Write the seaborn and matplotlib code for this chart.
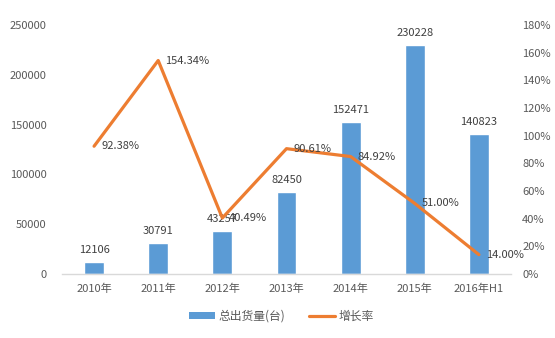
import numpy as np
import pandas as pd
import matplotlib
matplotlib.use("Agg")
import matplotlib.pyplot as plt
from matplotlib.patches import Patch
from matplotlib.lines import Line2D
from matplotlib.ticker import FuncFormatter, MultipleLocator
import seaborn as sns

# Data
years = ["2010年", "2011年", "2012年", "2013年", "2014年", "2015年", "2016年H1"]
shipments = [12106, 30791, 43257, 82450, 152471, 230228, 140823]
growth = [0.9238, 1.5434, 0.4049, 0.9061, 0.8492, 0.5100, 0.1400]
bar_label_text = ["12106", "30791", "43257", "82450", "152471", "230228", "140823"]
growth_label_text = ["92.38%", "154.34%", "40.49%", "90.61%", "84.92%", "51.00%", "14.00%"]

sns.set_theme(style="white")
plt.rcParams["font.family"] = ["Noto Sans CJK SC", "DejaVu Sans"]

BLUE = "#5B9BD5"
ORANGE = "#ED7D31"
TXT = "#595959"
FS = 8

df = pd.DataFrame({"year": years, "shipments": shipments, "growth": growth,
                   "pos": np.arange(len(years))})

fig = plt.figure(figsize=(5.55, 3.38), dpi=100)
ax = fig.add_axes([0.1117, 0.1893, 0.8090, 0.7367])

sns.barplot(data=df, x="year", y="shipments", color=BLUE, width=0.31,
            saturation=1, ax=ax)
ax.set_xlim(-0.5, len(years) - 0.5)
ax.set_ylim(0, 250000)
ax.yaxis.set_major_locator(MultipleLocator(50000))
ax.set_xlabel("")
ax.set_ylabel("")

ax2 = ax.twinx()
sns.lineplot(data=df, x="pos", y="growth", color=ORANGE, linewidth=2.3,
             ax=ax2, legend=False)
ax2.set_ylim(0, 1.8)
ax2.yaxis.set_major_locator(MultipleLocator(0.2))
ax2.yaxis.set_major_formatter(FuncFormatter(lambda v, p: f"{v*100:.0f}%"))
ax2.set_xlim(-0.5, len(years) - 0.5)
ax2.set_ylabel("")
ax2.set_xlabel("")

for a in (ax, ax2):
    for s in a.spines.values():
        s.set_visible(False)
    a.tick_params(length=0, labelsize=FS, colors=TXT)
    a.grid(False)
ax.spines["bottom"].set_visible(True)
ax.spines["bottom"].set_color("#D9D9D9")
ax.spines["bottom"].set_linewidth(1)
ax.tick_params(axis="x", pad=7)
ax.tick_params(axis="y", pad=11)
ax2.tick_params(axis="y", pad=8)

# Value labels on bars
for i, (v, t) in enumerate(zip(shipments, bar_label_text)):
    ax.annotate(t, (i, v), xytext=(0, 5), textcoords="offset points",
                ha="center", va="bottom", fontsize=FS, color="#404040")

# Value labels on growth line
for i, (r, t) in enumerate(zip(growth, growth_label_text)):
    ax2.annotate(t, (i, r), xytext=(5, 0), textcoords="offset points",
                 ha="left", va="center", fontsize=FS, color="#404040")

handles = [Patch(facecolor=BLUE, edgecolor="none"),
           Line2D([0], [0], color=ORANGE, linewidth=2.3)]
fig.legend(handles, ["总出货量(台)", "增长率"], loc="center",
           bbox_to_anchor=(0.507, 0.065), ncol=2, frameon=False,
           fontsize=FS + 0.5, labelcolor=TXT, handlelength=2.2,
           handleheight=0.6, columnspacing=2.0, handletextpad=0.3)

fig.savefig("out.png", dpi=100, facecolor="white")
